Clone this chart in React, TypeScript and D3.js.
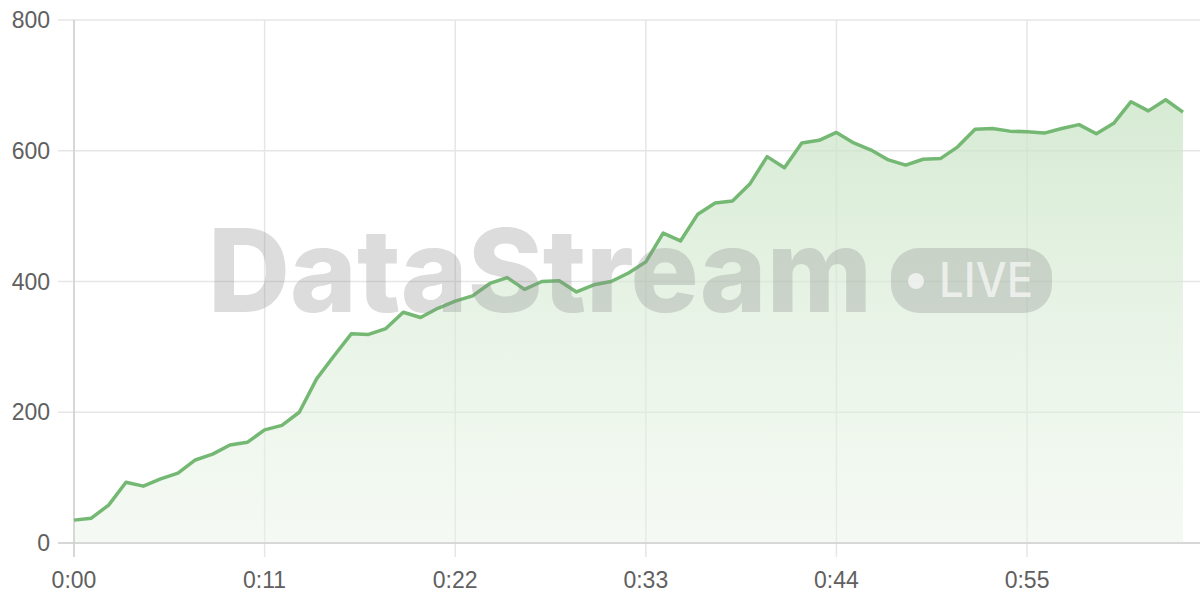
import React from "react";
import * as d3 from "d3";

const seconds: number[] = Array.from({ length: 65 }, (_, i) => i);
const values: number[] = [
  35, 38, 58, 93, 87, 98, 107, 127, 136, 150, 154, 173, 180, 200, 251, 286,
  320, 319, 328, 353, 345, 359, 370, 378, 397, 406, 388, 400, 401, 384, 395,
  400, 413, 430, 474, 462, 503, 520, 523, 549, 591, 574, 612, 616, 628, 612,
  601, 586, 578, 587, 588, 606, 633, 634, 630, 629, 627, 634, 640, 626, 642,
  675, 661, 678, 659,
];
const xTicks: number[] = [0, 11, 22, 33, 44, 55];
const yTicks: number[] = [0, 200, 400, 600, 800];
const watermark = "DataStream";
const badgeText = "LIVE";

const W = 1200;
const H = 600;
const left = 74;
const right = 1183;
const top = 20;
const bottom = 543;

export default function App() {
  const x = d3.scaleLinear().domain([0, 64]).range([left, right]);
  const y = d3.scaleLinear().domain([0, 800]).range([bottom, top]);
  const data = seconds.map((s, i) => ({ s, v: values[i] }));
  const line = d3
    .line<{ s: number; v: number }>()
    .x((d) => x(d.s))
    .y((d) => y(d.v));
  const area = d3
    .area<{ s: number; v: number }>()
    .x((d) => x(d.s))
    .y0(y(0))
    .y1((d) => y(d.v));
  const fmt = (s: number) => `${Math.floor(s / 60)}:${String(s % 60).padStart(2, "0")}`;
  const font = "Inter, 'Noto Sans', sans-serif";
  const labelFont = "'Liberation Sans', Arial, sans-serif";

  return (
    <svg
      width={W}
      height={H}
      style={{ position: "absolute", left: 0, top: 0, background: "#fff" }}
    >
      <defs>
        <linearGradient id="areaGrad" x1="0" y1="0" x2="0" y2="1">
          <stop offset="0%" stopColor="#c9e4c5" stopOpacity={0.75} />
          <stop offset="100%" stopColor="#e8f4e6" stopOpacity={0.45} />
        </linearGradient>
      </defs>
      {/* horizontal grid */}
      {yTicks.map((t) => (
        <line
          key={"gy" + t}
          x1={58}
          x2={W}
          y1={y(t)}
          y2={y(t)}
          stroke="#e6e6e6"
          strokeWidth={1.5}
        />
      ))}
      {/* vertical grid */}
      {xTicks.map((t) => (
        <line
          key={"gx" + t}
          x1={x(t)}
          x2={x(t)}
          y1={top}
          y2={bottom + 14}
          stroke="#e6e6e6"
          strokeWidth={1.5}
        />
      ))}
      <path d={area(data) || ""} fill="url(#areaGrad)" />
      {/* axes */}
      <line x1={left} x2={left} y1={top} y2={bottom + 14} stroke="#d0d0d0" strokeWidth={1.5} />
      <line x1={58} x2={W} y1={bottom} y2={bottom} stroke="#d0d0d0" strokeWidth={1.5} />
      <path d={line(data) || ""} fill="none" stroke="#74b874" strokeWidth={3.5} strokeLinejoin="round" />
      {/* watermark */}
      <g>
        <text
          x={208}
          y={312}
          fontFamily={font}
          fontWeight={800}
          fontSize={115}
          fill="#8a8a8a"
          fillOpacity={0.3}
          textLength={664}
          lengthAdjust="spacingAndGlyphs"
        >
          {watermark}
        </text>
        <rect x={891} y={248} width={161} height={65} rx={28} fill="#8a8a8a" fillOpacity={0.3} />
        <circle cx={916} cy={281} r={8} fill="#fff" fillOpacity={0.65} />
        <text
          x={939}
          y={297}
          fontFamily={font}
          fontWeight={500}
          fontSize={48}
          fill="#fff"
          fillOpacity={0.65}
          textLength={94}
          lengthAdjust="spacingAndGlyphs"
        >
          {badgeText}
        </text>
      </g>
      {/* labels */}
      {yTicks.map((t) => (
        <text
          key={"ly" + t}
          x={50}
          y={y(t) + 8}
          textAnchor="end"
          fontFamily={labelFont}
          fontSize={23}
          fill="#606060"
        >
          {t}
        </text>
      ))}
      {xTicks.map((t) => (
        <text
          key={"lx" + t}
          x={x(t)}
          y={588}
          textAnchor="middle"
          fontFamily={labelFont}
          fontSize={23}
          fill="#606060"
        >
          {fmt(t)}
        </text>
      ))}
    </svg>
  );
}
